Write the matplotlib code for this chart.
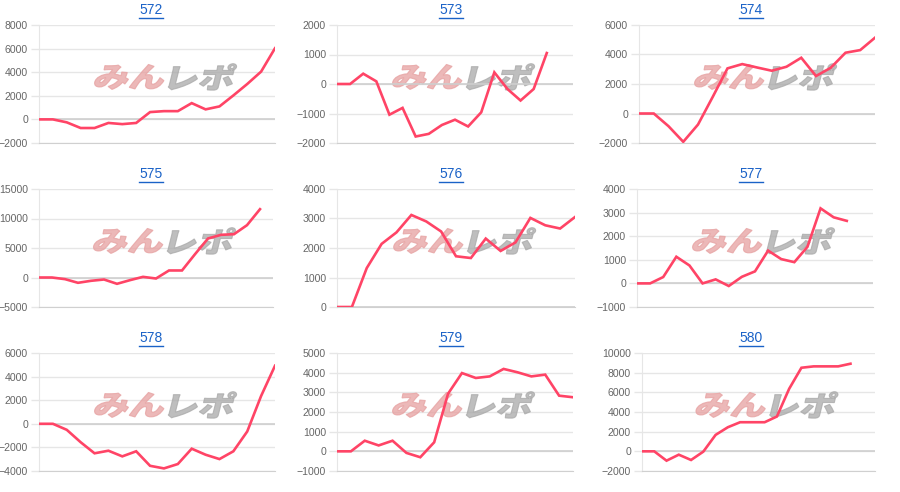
import matplotlib
matplotlib.use("Agg")
import matplotlib.pyplot as plt
from matplotlib.font_manager import FontProperties
from matplotlib.patches import PathPatch
from matplotlib.textpath import TextPath
from matplotlib.transforms import Affine2D
from matplotlib.lines import Line2D

plt.rcParams["font.family"] = ["Liberation Sans", "DejaVu Sans"]

# machine numbers and the cumulative difference series for each one
titles = ["572", "573", "574", "575", "576", "577", "578", "579", "580"]

s572 = [0, 0, -250, -730, -730, -300, -400, -300, 620, 700, 700, 1380, 850,
        1100, 2030, 3000, 4050, 6030]
s573 = [0, 0, 350, 90, -1040, -810, -1780, -1690, -1390, -1210, -1440, -960,
        395, -170, -560, -170, 1050]
s574 = [0, 0, -860, -1920, -750, 1130, 3060, 3350, 3120, 2900, 3170, 3780,
        2540, 3100, 4120, 4300, 5140]
s575 = [0, 0, -280, -900, -560, -340, -1070, -450, 110, -170, 1190, 1190,
        3950, 6610, 7230, 7340, 8870, 11580]
s576 = [0, 0, 1320, 2140, 2530, 3120, 2900, 2560, 1720, 1660, 2320, 1900,
        2190, 3020, 2770, 2660, 3050]
s577 = [0, 0, 270, 1130, 760, 0, 170, -110, 280, 510, 1390, 1030, 900, 1550,
        3180, 2800, 2650]
s578 = [0, 0, -510, -1560, -2500, -2280, -2760, -2330, -3560, -3780, -3410,
        -2110, -2620, -2990, -2330, -650, 2360, 4920]
s579 = [0, 0, 540, 300, 540, -80, -300, 460, 2930, 3980, 3730, 3810, 4190,
        4020, 3810, 3900, 2830, 2750]
s580 = [0, 0, -950, -340, -880, -30, 1670, 2450, 2960, 2960, 2960, 3540,
        6360, 8500, 8640, 8640, 8640, 8910]
series = [s572, s573, s574, s575, s576, s577, s578, s579, s580]

# number of category slots on each x axis
slots = [18, 19, 17, 19, 17, 19, 18, 18, 20]

# y axis ticks (min, max, step)
yticks = [(-2000, 8000, 2000), (-2000, 2000, 1000), (-2000, 6000, 2000),
          (-5000, 15000, 5000), (0, 4000, 1000), (-1000, 4000, 1000),
          (-4000, 6000, 2000), (-1000, 5000, 1000), (-2000, 10000, 2000)]

# plot areas in pixels: left, right, top, bottom
boxes = [(39, 275, 25, 143), (337, 573, 25, 143), (639, 875, 25, 143),
         (39, 273, 189, 307), (337, 575, 189, 307), (637, 873, 189, 307),
         (39, 275, 353, 471), (337, 573, 353, 471), (642, 875, 353, 471)]

W, H = 900, 492
fig = plt.figure(figsize=(W / 100, H / 100), dpi=100)

LINE = "#ff4466"
GRID = "#e6e6e6"
TEXT = "#666666"
LINK = "#1a62c7"

logo_font = FontProperties(family="Noto Sans CJK JP", weight=900)


def add_logo(ax):
    x0, y0 = ax.transAxes.transform((0.54, 0.56))
    parts = [("みん", "#e6a0a0", -36), ("レポ", "#a8a8a8", 36)]
    for txt, col, dx in parts:
        tp = TextPath((0, 0), txt, size=33, prop=logo_font)
        ext = tp.get_extents()
        cx = (ext.x0 + ext.x1) / 2
        cy = (ext.y0 + ext.y1) / 2
        tr = (Affine2D().translate(-cx, -cy).scale(1.08, 0.85)
              .skew_deg(14, 0).translate(x0 + dx, y0))
        ax.add_patch(PathPatch(tp, transform=tr, facecolor=col,
                               edgecolor=col, lw=0.8, alpha=0.75, zorder=1.5))


for i in range(9):
    l, r, t, b = boxes[i]
    ax = fig.add_axes([l / W, 1 - b / H, (r - l) / W, (b - t) / H])
    vals = series[i]
    lo, hi, step = yticks[i]

    ax.plot(range(len(vals)), vals, color=LINE, lw=1.9, zorder=3,
            solid_joinstyle="miter")
    ax.set_xlim(0, slots[i] - 1)
    ax.set_ylim(lo, hi)
    ax.set_yticks(range(lo, hi + 1, step))
    ax.set_xticks([])
    ax.grid(axis="y", color=GRID, lw=1)
    ax.axhline(0, color="#cfcfcf", lw=1.2, zorder=2)
    ax.tick_params(axis="y", length=6, width=1, color=GRID, labelsize=7.6,
                   labelcolor=TEXT, pad=2)
    for s in ["top", "right"]:
        ax.spines[s].set_visible(False)
    ax.spines["left"].set_color(GRID)
    ax.spines["bottom"].set_color("#d0d0d0")
    ax.set_axisbelow(True)
    add_logo(ax)

    # underlined link-style title
    row, col = divmod(i, 3)
    tx = (col * 300 + 151) / W
    ty = 1 - (10 + row * 164) / H
    fig.text(tx, ty, titles[i], color=LINK, fontsize=10,
             ha="center", va="center")

fig.canvas.draw()
renderer = fig.canvas.get_renderer()
for t in fig.texts:
    bb = t.get_window_extent(renderer)
    yy = (bb.y0 - 0.5) / H
    fig.add_artist(Line2D([bb.x0 / W, bb.x1 / W], [yy, yy],
                          color=LINK, lw=1.0, transform=fig.transFigure))

fig.savefig("out.png", dpi=100)
